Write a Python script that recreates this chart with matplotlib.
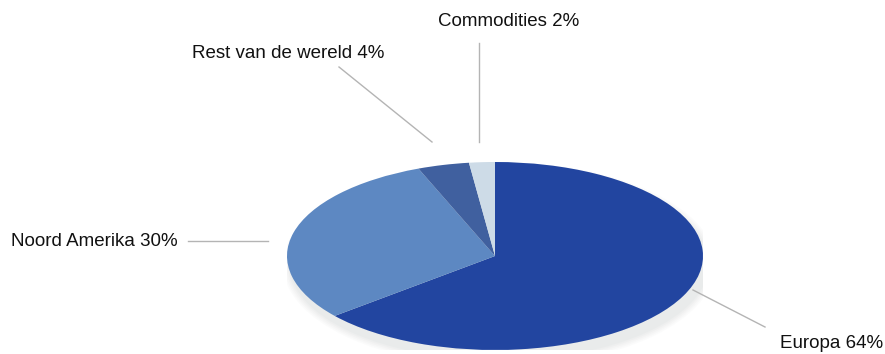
import matplotlib
matplotlib.use("Agg")
import matplotlib.pyplot as plt
from matplotlib.patches import Ellipse

# Regional breakdown (percent)
regions = ["Europa", "Noord Amerika", "Rest van de wereld", "Commodities"]
shares = [64, 30, 4, 2]
colors = ["#2245a0", "#5d88c2", "#40609f", "#cddbe7"]

W, H = 885, 354
fig = plt.figure(figsize=(W / 100, H / 100), dpi=100)
fig.patch.set_facecolor("white")

# Flattened pie: centre and semi-axes in pixels
cx, cy, rx, ry = 495, 256, 208, 94
pie_ax = fig.add_axes([(cx - rx) / W, (H - cy - ry) / H, 2 * rx / W, 2 * ry / H])

# soft drop shadow under the disc
for i, a in enumerate([0.03, 0.03, 0.035, 0.04, 0.045]):
    grow = 0.08 - i * 0.016
    pie_ax.add_patch(Ellipse((0.02, -0.09), 2 + grow, 2 + grow * 2.2,
                             facecolor="#8a9a9a", edgecolor="none", alpha=a, zorder=0))

wedges, _ = pie_ax.pie(shares, colors=colors, startangle=90, counterclock=False,
                       wedgeprops=dict(linewidth=0))
for w in wedges:
    w.set_zorder(2)
pie_ax.set_aspect("auto")
pie_ax.set_xlim(-1, 1)
pie_ax.set_ylim(-1, 1)
pie_ax.axis("off")

# Overlay in pixel units for labels and leader lines
ov = fig.add_axes([0, 0, 1, 1], facecolor="none")
ov.set_xlim(0, W)
ov.set_ylim(H, 0)
ov.axis("off")

labels = [f"{r} {s}%" for r, s in zip(regions, shares)]
label_pos = [(883, 343, "right"), (178, 241, "right"), (384, 54, "right"), (509, 22, "center")]
leaders = [((693, 290), (765, 327)), ((268, 241), (188, 241)),
           ((432, 142), (339, 67)), ((479, 142), (479, 43))]

for text, (tx, ty, ha), (p0, p1) in zip(labels, label_pos, leaders):
    ov.plot([p0[0], p1[0]], [p0[1], p1[1]], color="#b4b4b4", lw=1.0)
    ov.text(tx, ty, text, ha=ha, va="center", fontsize=13.5,
            family="Liberation Sans", color="#111111")

fig.savefig("out.png", dpi=100, facecolor="white")
